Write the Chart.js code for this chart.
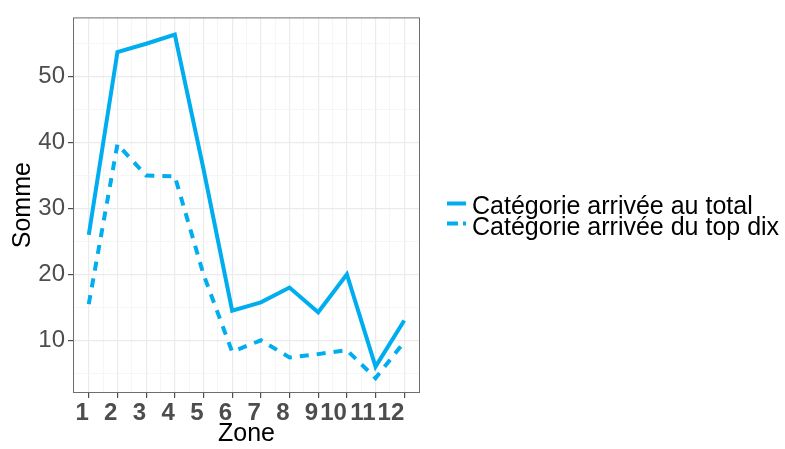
<!DOCTYPE html>
<html>
<head>
<meta charset="utf-8">
<script src="https://cdn.jsdelivr.net/npm/chart.js@4/dist/chart.umd.min.js"></script>
<style>
  html, body { margin: 0; padding: 0; background: #ffffff; }
  #wrap { width: 785px; height: 449px; position: relative; }
</style>
</head>
<body>
<div id="wrap"><canvas id="c" width="785" height="449"></canvas></div>
<script>
const zones = [1, 2, 3, 4, 5, 6, 7, 8, 9, 10, 11, 12];
const totalValues = [26.0, 53.75, 55.0, 56.4, 36.0, 14.5, 15.75, 18.0, 14.25, 20.0, 6.0, 13.0];
const topDixValues = [15.5, 39.75, 35.0, 34.9, 20.0, 8.25, 10.0, 7.4, 7.9, 8.5, 4.25, 9.75];
const seriesNames = ['Catégorie arrivée au total', 'Catégorie arrivée du top dix'];
const yTickLabels = [10, 20, 30, 40, 50];
const yMinor = [5, 15, 25, 35, 45, 55];
const xMinor = [1.5, 2.5, 3.5, 4.5, 5.5, 6.5, 7.5, 8.5, 9.5, 10.5, 11.5];

const BLUE = '#00AEEF';
const FONT = "'Liberation Sans', Arial, sans-serif";

const legendPlugin = {
  id: 'customLegend',
  afterDraw(chart) {
    const ctx = chart.ctx;
    ctx.save();
    const x0 = 447, x1 = 466;
    const lineYs = [203.5, 223.5];
    const baseYs = [213.5, 235];
    ctx.strokeStyle = BLUE;
    ctx.lineWidth = 4;
    ctx.lineCap = 'butt';
    ctx.font = '25px ' + FONT;
    ctx.fillStyle = '#000000';
    ctx.textBaseline = 'alphabetic';
    ctx.textAlign = 'left';
    lineYs.forEach((y, i) => {
      ctx.beginPath();
      ctx.setLineDash(i === 0 ? [] : [11, 5]);
      ctx.moveTo(x0, y);
      ctx.lineTo(x1, y);
      ctx.stroke();
      ctx.fillText(seriesNames[i], 472, baseYs[i]);
    });
    ctx.restore();
  }
};

const borderPlugin = {
  id: 'panelBorder',
  afterDatasetsDraw(chart) {
    const a = chart.chartArea;
    const ctx = chart.ctx;
    ctx.save();
    ctx.strokeStyle = '#6e6e6e';
    ctx.lineWidth = 1;
    ctx.setLineDash([]);
    ctx.strokeRect(a.left + 0.5, a.top + 0.5, a.right - a.left - 1, a.bottom - a.top - 1);
    ctx.restore();
  }
};

new Chart(document.getElementById('c'), {
  type: 'line',
  data: {
    datasets: [
      {
        label: seriesNames[0],
        data: zones.map((z, i) => ({ x: z, y: totalValues[i] })),
        borderColor: BLUE,
        borderWidth: 4,
        pointRadius: 0,
        tension: 0,
        fill: false
      },
      {
        label: seriesNames[1],
        data: zones.map((z, i) => ({ x: z, y: topDixValues[i] })),
        borderColor: BLUE,
        borderWidth: 4,
        borderDash: [9, 8],
        pointRadius: 0,
        tension: 0,
        fill: false
      }
    ]
  },
  options: {
    responsive: false,
    animation: false,
    devicePixelRatio: 1,
    layout: { padding: { left: 0, top: 13, right: 365, bottom: 0 } },
    plugins: { legend: { display: false }, tooltip: { enabled: false } },
    scales: {
      x: {
        type: 'linear',
        min: 0.45,
        max: 12.55,
        afterBuildTicks(scale) {
          const t = zones.concat(xMinor).sort((a, b) => a - b);
          scale.ticks = t.map(v => ({ value: v }));
        },
        afterFit(scale) { scale.height = 56; },
        ticks: {
          autoSkip: false,
          maxRotation: 0,
          minRotation: 0,
          align: 'end',
          padding: 1,
          color: '#4d4d4d',
          font: { family: FONT, size: 24, weight: 'bold' },
          callback: (v) => Number.isInteger(v) ? String(v) : ''
        },
        grid: {
          color: (c) => Number.isInteger(c.tick && c.tick.value) ? '#ebebeb' : '#f4f4f4',
          lineWidth: (c) => Number.isInteger(c.tick && c.tick.value) ? 1.2 : 0.8,
          tickColor: (c) => Number.isInteger(c.tick && c.tick.value) ? '#4d4d4d' : 'rgba(0,0,0,0)',
          tickLength: 5,
          drawTicks: true
        },
        border: { display: false },
        title: {
          display: true,
          text: 'Zone',
          color: '#000000',
          font: { family: FONT, size: 25 },
          padding: 0
        }
      },
      y: {
        type: 'linear',
        min: 2,
        max: 59,
        afterBuildTicks(scale) {
          const t = yTickLabels.concat(yMinor).sort((a, b) => a - b);
          scale.ticks = t.map(v => ({ value: v }));
        },
        afterFit(scale) { scale.width = 73; },
        ticks: {
          autoSkip: false,
          padding: 3,
          color: '#4d4d4d',
          font: { family: FONT, size: 24 },
          callback: (v) => (v % 10 === 0) ? String(v) : ''
        },
        grid: {
          color: (c) => (c.tick && c.tick.value % 10 === 0) ? '#ebebeb' : '#f4f4f4',
          lineWidth: (c) => (c.tick && c.tick.value % 10 === 0) ? 1.2 : 0.8,
          tickColor: (c) => (c.tick && c.tick.value % 10 === 0) ? '#4d4d4d' : 'rgba(0,0,0,0)',
          tickLength: 5
        },
        border: { display: false },
        title: {
          display: true,
          text: 'Somme',
          color: '#000000',
          font: { family: FONT, size: 25 },
          padding: { top: 8, bottom: 0 }
        }
      }
    }
  },
  plugins: [legendPlugin, borderPlugin]
});
</script>
</body>
</html>
